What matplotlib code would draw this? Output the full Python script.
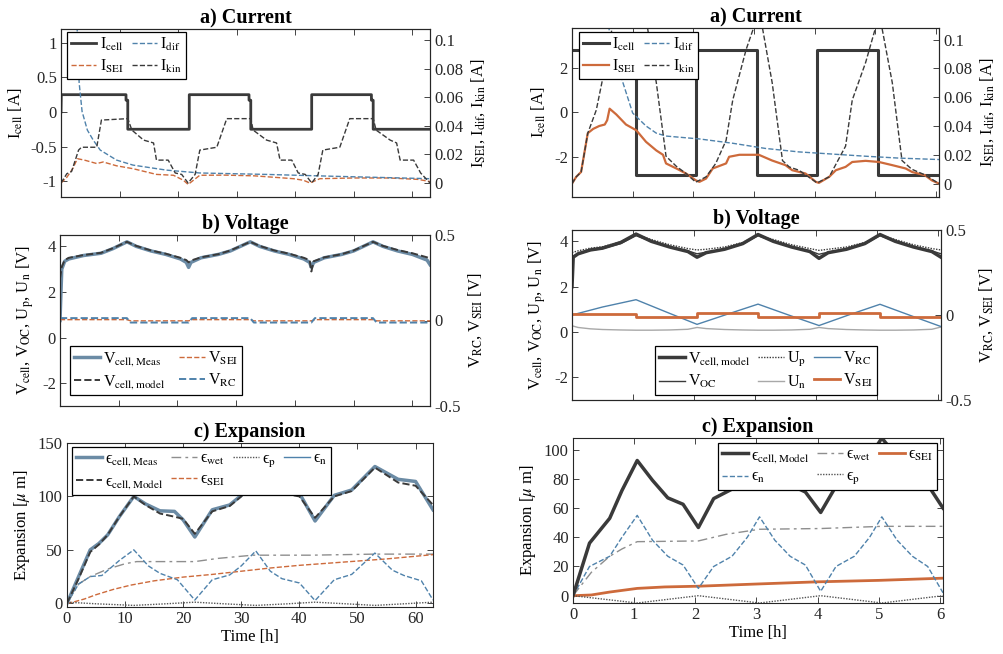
import matplotlib
matplotlib.use('Agg')
import matplotlib.pyplot as plt
from matplotlib.lines import Line2D
from matplotlib.ticker import FuncFormatter

plt.rcParams['font.family'] = ['Liberation Serif', 'DejaVu Serif']
plt.rcParams['mathtext.fontset'] = 'stix'
plt.rcParams['axes.unicode_minus'] = False

DARK = '#3a3a3a'
BLUE = '#4f82ab'
ORANGE = '#cd6a3b'
MEAS = '#6b8ba5'
GRAY = '#8e8e8e'
LGRAY = '#a8a8a8'
AXC = '#262626'

# ================= Left column (long test, 63 h) =================
# a) current
tL_Icell = [0, 0.05, 11.1, 11.1, 11.4, 11.4, 21.9, 21.9, 32.1, 32.1, 32.4, 32.4,
            42.8, 42.8, 53.0, 53.0, 53.3, 53.3, 63.0]
L_Icell = [0, 0.25, 0.25, 0.17, 0.17, -0.25, -0.25, 0.25, 0.25, 0.17, 0.17, -0.25,
           -0.25, 0.25, 0.25, 0.17, 0.17, -0.25, -0.25]

tL_Ikin = [0, 1.0, 1.8, 3.0, 3.5, 6.1, 6.9, 11.4, 12.1, 14.1, 15.8, 16.3, 18.3, 19.5,
           20.6, 21.7, 22.9, 23.7, 26.6, 28.3, 32.4, 32.8, 35.1, 36.8, 37.4, 39.4, 40.5,
           41.7, 42.8, 43.9, 44.7, 47.6, 49.3, 53.3, 53.8, 56.2, 57.3, 57.9, 60.2, 61.4, 63.0]
L_Ikin = [0, 0.0065, 0.008, 0.023, 0.025, 0.025, 0.044, 0.045, 0.037, 0.030, 0.028, 0.016,
          0.016, 0.007, 0.006, 0.0, 0.006, 0.023, 0.025, 0.045, 0.045, 0.037, 0.030, 0.028,
          0.016, 0.016, 0.007, 0.006, 0.0, 0.006, 0.023, 0.025, 0.045, 0.045, 0.037, 0.030,
          0.028, 0.016, 0.016, 0.007, 0.0]

tL_Isei = [0, 1.0, 2.0, 2.8, 4.0, 6.1, 7.2, 9.5, 12.3, 16.3, 19.2, 20.9, 21.7, 23.7,
           28.0, 33.0, 39.7, 41.4, 42.5, 44.2, 50.0, 56.0, 61.0, 63.0]
L_Isei = [0.0, 0.004, 0.010, 0.017, 0.016, 0.0136, 0.0147, 0.012, 0.010, 0.006, 0.0054,
          0.0019, -0.001, 0.0054, 0.0055, 0.005, 0.003, 0.0019, 0.0, 0.003, 0.0035,
          0.0035, 0.0025, 0.001]

tL_Idif = [2.6, 3.1, 3.6, 4.5, 5.5, 6.7, 9.5, 12.3, 18.0, 23.7, 35.0, 46.5, 63.0]
L_Idif = [0.125, 0.07, 0.05, 0.037, 0.030, 0.023, 0.016, 0.0125, 0.009, 0.007, 0.006,
          0.0047, 0.003]

# b) voltage
tL_V = [0, 0.3, 0.8, 1.5, 4, 7, 9, 11.4, 13, 15.5, 18, 20.5, 21.5, 21.9, 22.3, 24, 27,
        29, 32.4, 34, 36.5, 39, 41.5, 42.5, 42.8, 43.2, 45, 48, 50, 53.3, 55, 57.5, 60,
        62.5, 63]
L_Vmeas = [0.75, 3.0, 3.35, 3.45, 3.6, 3.7, 3.9, 4.2, 4.0, 3.8, 3.65, 3.45, 3.3, 3.08,
           3.3, 3.5, 3.65, 3.8, 4.2, 4.0, 3.8, 3.65, 3.45, 3.3, 3.08, 3.3, 3.5, 3.65, 3.8,
           4.2, 4.0, 3.8, 3.65, 3.4, 3.2]
L_Vmodel = [2.6, 3.1, 3.4, 3.5, 3.62, 3.72, 3.92, 4.2, 4.02, 3.82, 3.68, 3.5, 3.4, 3.3,
            3.38, 3.52, 3.66, 3.82, 4.2, 4.02, 3.82, 3.68, 3.5, 3.4, 2.9, 3.35, 3.52,
            3.66, 3.82, 4.2, 4.02, 3.84, 3.7, 3.52, 3.45]

tL_Vstep = [0, 11.4, 12.0, 21.9, 22.5, 32.4, 33.0, 42.8, 43.4, 53.3, 53.9, 63]
L_Vsei = [0.005, 0.005, -0.002, -0.002, 0.005, 0.005, -0.002, -0.002, 0.005, 0.005,
          -0.002, -0.002]
L_Vrc = [0.014, 0.014, -0.012, -0.012, 0.014, 0.014, -0.012, -0.012, 0.014, 0.014,
         -0.012, -0.012]

# c) expansion
tL_E = [0, 2, 4, 5.5, 7, 9, 11.5, 13.5, 16, 18.5, 20, 22, 25, 28, 30, 32.5, 35, 37, 40,
        42.7, 46, 49, 53, 57, 60, 63]
L_Emeas = [0, 25, 50, 56, 64, 81, 100, 93, 86.5, 86, 78, 62, 87.5, 92, 101, 119, 111,
           105, 103, 77, 101, 106, 128, 116, 114, 87.5]
L_Emodel = [0, 23, 48, 55, 64, 81, 100, 92, 84, 81, 79, 65, 86, 91, 100, 118, 110, 103,
            100, 80, 100, 105, 127, 113, 110, 92]
tL_Ewet = [0, 2, 4, 7, 10, 12, 22, 26, 32, 42, 53, 63]
L_Ewet = [0, 18, 25, 32, 37, 39, 39, 42, 45, 45, 46, 46]
tL_Esei = [0, 1, 3, 5, 8, 11, 15, 20, 25, 30, 35, 40, 45, 50, 55, 60, 63]
L_Esei = [0, 1, 4, 8, 13, 17, 21, 24.5, 27, 30, 33, 35.5, 37.5, 39.5, 41.5, 44, 45.5]
tL_En = [0, 2, 4, 6, 9, 11.5, 14, 16, 19, 22, 25, 28, 30, 32.5, 35, 37, 40, 42.7, 46,
         49, 53, 56, 58, 61, 63]
L_En = [0, 18, 25, 26, 40, 50, 35, 28, 22, 3, 22, 26.5, 35, 49, 30, 23, 19, 2.5, 22, 27,
        47, 31, 26, 21, 3]
tL_Ep = [0, 5, 11.5, 17, 22, 27, 32.5, 38, 42.7, 48, 53, 58, 63]
L_Ep = [1, -0.5, -2, -0.5, 1, -0.5, -2, -0.5, 1, -0.5, -2, -0.5, 1]

# ================= Right column (short test, 6 h) =================
tR_Icell = [0, 1.05, 1.05, 2.05, 2.05, 3.05, 3.05, 4.04, 4.04, 5.04, 5.04, 6.05]
R_Icell = [2.8, 2.8, -2.8, -2.8, 2.8, 2.8, -2.8, -2.8, 2.8, 2.8, -2.8, -2.8]

tR_Isei = [0, 0.07, 0.15, 0.26, 0.35, 0.45, 0.54, 0.58, 0.62, 0.73, 0.89, 1.06, 1.22,
           1.39, 1.50, 1.55, 1.72, 1.88, 2.04, 2.10, 2.21, 2.32, 2.54, 2.59, 2.76, 2.98,
           3.08, 3.30, 3.52, 3.63, 3.85, 4.02, 4.07, 4.24, 4.35, 4.51, 4.62, 4.84, 5.06,
           5.28, 5.50, 5.61, 5.82, 5.93, 6.05]
R_Isei = [0.0, 0.0047, 0.0081, 0.035, 0.038, 0.040, 0.041, 0.044, 0.052, 0.048, 0.041,
          0.037, 0.029, 0.023, 0.020, 0.014, 0.0105, 0.007, 0.0023, 0.0012, 0.0035,
          0.0105, 0.014, 0.0186, 0.020, 0.020, 0.020, 0.016, 0.0128, 0.0093, 0.007,
          0.0012, 0.0005, 0.0047, 0.0093, 0.0116, 0.015, 0.0158, 0.015, 0.0128, 0.0105,
          0.008, 0.0058, 0.0023, 0.0]

tR_Ikin = [0, 0.07, 0.15, 0.26, 0.40, 0.56, 0.67, 0.85, 1.05, 1.2, 1.39, 1.55, 1.72,
           1.88, 2.04, 2.21, 2.37, 2.54, 2.65, 2.87, 3.05, 3.14, 3.30, 3.47, 3.58, 3.74,
           4.04, 4.24, 4.51, 4.62, 4.84, 5.05, 5.11, 5.28, 5.44, 5.60, 5.82, 6.05]
R_Ikin = [0, 0.0047, 0.008, 0.035, 0.051, 0.084, 0.11, 0.14, 0.16, 0.12, 0.07, 0.019,
          0.012, 0.007, 0.001, 0.0047, 0.014, 0.030, 0.058, 0.093, 0.115, 0.108, 0.07,
          0.016, 0.0116, 0.0093, 0.0005, 0.0047, 0.026, 0.058, 0.084, 0.115, 0.108, 0.07,
          0.016, 0.010, 0.006, 0.0]

tR_Idif = [0.56, 0.62, 0.84, 1.0, 1.22, 1.39, 1.55, 2.1, 2.65, 3.19, 3.74, 4.29, 4.84,
           5.39, 6.05]
R_Idif = [0.12, 0.105, 0.07, 0.049, 0.040, 0.035, 0.033, 0.031, 0.028, 0.0244, 0.022,
          0.0205, 0.019, 0.0177, 0.0167]

tR_V = [0, 0.02, 0.1, 0.3, 0.5, 0.8, 1.05, 1.3, 1.6, 1.9, 2.05, 2.2, 2.5, 2.8, 3.05,
        3.3, 3.6, 3.9, 4.05, 4.2, 4.5, 4.8, 5.05, 5.3, 5.6, 5.9, 6.05]
R_Vcell = [2.0, 3.3, 3.45, 3.62, 3.7, 3.95, 4.32, 4.0, 3.75, 3.55, 3.3, 3.5, 3.65, 3.9,
           4.3, 4.0, 3.75, 3.55, 3.25, 3.5, 3.65, 3.9, 4.3, 4.0, 3.75, 3.55, 3.3]
R_Voc = [3.3, 3.35, 3.45, 3.6, 3.68, 3.9, 4.25, 4.0, 3.75, 3.58, 3.45, 3.52, 3.65, 3.88,
         4.25, 4.0, 3.75, 3.58, 3.43, 3.52, 3.65, 3.88, 4.25, 4.0, 3.75, 3.58, 3.45]
R_Up = [3.5, 3.52, 3.58, 3.7, 3.76, 3.98, 4.3, 4.08, 3.85, 3.68, 3.62, 3.65, 3.75, 3.95,
        4.28, 4.08, 3.85, 3.68, 3.6, 3.65, 3.75, 3.95, 4.28, 4.08, 3.85, 3.68, 3.62]
R_Un = [0.28, 0.26, 0.2, 0.14, 0.11, 0.09, 0.08, 0.08, 0.09, 0.12, 0.2, 0.15, 0.11, 0.09,
        0.08, 0.08, 0.09, 0.12, 0.2, 0.15, 0.11, 0.09, 0.08, 0.08, 0.09, 0.12, 0.22]
tR_Vrc = [0, 0.5, 1.05, 1.55, 2.05, 2.55, 3.05, 3.55, 4.05, 4.55, 5.05, 5.55, 6.05]
R_Vrc = [0.0, 0.047, 0.09, 0.017, -0.055, 0.005, 0.064, 0.0, -0.062, 0.002, 0.063,
         -0.003, -0.068]
tR_Vsei = [0, 1.05, 1.05, 2.05, 2.05, 3.05, 3.05, 4.05, 4.05, 5.05, 5.05, 6.05]
R_Vsei = [0.004, 0.004, -0.01, -0.01, 0.01, 0.01, -0.01, -0.01, 0.014, 0.014, -0.014,
          -0.014]

tR_E = [0, 0.27, 0.6, 0.8, 1.05, 1.3, 1.55, 1.8, 2.05, 2.3, 2.6, 2.85, 3.05, 3.3, 3.55,
        3.8, 4.05, 4.3, 4.6, 4.85, 5.05, 5.3, 5.55, 5.8, 6.05]
R_Emodel = [0, 36, 53, 72, 92.6, 79, 67, 62.6, 46.7, 66.5, 73, 85, 100, 88, 76, 71, 57,
            75, 82, 95, 108, 95, 83, 76, 60]
R_En = [0, 20, 27, 40, 55, 38, 27, 21, 5, 20, 27, 40, 54, 38, 27, 21, 3, 20, 27, 40, 54,
        38, 27, 20, 2]
tR_Ewet = [0, 0.3, 0.6, 0.8, 1.05, 2.05, 2.5, 3.05, 4.05, 5.05, 6.05]
R_Ewet = [0, 16, 27, 32, 37, 37.5, 42, 45.5, 46, 47.5, 47.5]
tR_Esei = [0, 0.3, 0.6, 1.05, 1.5, 2.05, 3.0, 4.0, 5.0, 6.05]
R_Esei = [0, 0.5, 2.5, 5, 6, 6.5, 8, 9.5, 10.5, 12]
tR_Ep = [0, 1.05, 2.05, 3.05, 4.05, 5.05, 6.05]
R_Ep = [0, -5, 0, -5, 0, -5, 0]

# ================= figure =================
W, H = 1004, 654
fig = plt.figure(figsize=(W / 100, H / 100), dpi=100)

FS = 12          # tick labels
LFS = 11.5       # legend
YFS = 12         # axis labels
TFS = 14.5       # titles
gfmt = FuncFormatter(lambda v, p: ('%g' % v))
WET_LS = (0, (7, 3, 2, 3))
DOT_LS = (0, (1, 1))
EPS = '\u03f5'


def make_ax(x0, y0, x1, y1):
    return fig.add_axes([x0 / W, 1 - y1 / H, (x1 - x0) / W, (y1 - y0) / H])


def style(ax, xlim, xticks, xlabels, twin=None):
    ax.set_xlim(*xlim)
    ax.set_xticks(xticks)
    ax.tick_params(direction='in', length=4, width=0.6, top=True, right=twin is None,
                   labelsize=FS, colors=AXC, pad=3)
    if not xlabels:
        ax.tick_params(labelbottom=False)
    ax.yaxis.set_major_formatter(gfmt)
    for s in ax.spines.values():
        s.set_linewidth(0.8)
        s.set_color(AXC)
    if twin is not None:
        twin.tick_params(direction='in', length=4, width=0.6, labelsize=FS, colors=AXC,
                         pad=3)
        twin.yaxis.set_major_formatter(gfmt)
        for s in twin.spines.values():
            s.set_linewidth(0.8)
            s.set_color(AXC)


def legend(ax, handles, labels, **kw):
    opts = dict(fancybox=False, edgecolor='k', framealpha=1, fontsize=LFS, borderpad=0.25,
                labelspacing=0.3, handlelength=1.6, handletextpad=0.2,
                columnspacing=0.5, borderaxespad=0)
    opts.update(kw)
    lg = ax.legend(handles, labels, **opts)
    lg.get_frame().set_linewidth(0.9)
    return lg


xL = (0, 63)
xR = (0, 6.05)
tkL = [0, 10, 20, 30, 40, 50, 60]
tkR = [0, 1, 2, 3, 4, 5, 6]

# ---------- left a ----------
ax = make_ax(61, 29, 430, 197)
ax2 = ax.twinx()
hc, = ax.plot(tL_Icell, L_Icell, color=DARK, lw=2.0)
hs, = ax2.plot(tL_Isei, L_Isei, color=ORANGE, lw=1.0, ls='--')
hd, = ax2.plot(tL_Idif, L_Idif, color=BLUE, lw=1.0, ls='--')
hk, = ax2.plot(tL_Ikin, L_Ikin, color=DARK, lw=1.0, ls='--')
ax.set_ylim(-1.23, 1.2)
ax.set_yticks([-1, -0.5, 0, 0.5, 1])
ax2.set_ylim(-0.0098, 0.1077)
ax2.set_yticks([0, 0.02, 0.04, 0.06, 0.08, 0.1])
style(ax, xL, tkL, False, ax2)
ax.set_title('a) Current', fontweight='bold', fontsize=TFS, pad=4)
ax.set_ylabel('I$_{\\rm cell}$ [A]', fontsize=YFS)
ax2.set_ylabel('I$_{\\rm SEI}$, I$_{\\rm dif}$, I$_{\\rm kin}$ [A]', fontsize=YFS)
legend(ax2, [hc, hs, hd, hk],
       ['I$_{\\rm cell}$', 'I$_{\\rm SEI}$', 'I$_{\\rm dif}$', 'I$_{\\rm kin}$'],
       ncol=2, loc='upper left', bbox_to_anchor=(0.016, 0.982))

# ---------- left b ----------
ax = make_ax(60, 235, 430, 406)
ax2 = ax.twinx()
hm, = ax.plot(tL_V, L_Vmeas, color=MEAS, lw=2.5)
hmo, = ax.plot(tL_V, L_Vmodel, color=DARK, lw=1.4, ls='--')
hvs, = ax2.plot(tL_Vstep, L_Vsei, color=ORANGE, lw=1.0, ls='--')
hvr, = ax2.plot(tL_Vstep, L_Vrc, color=BLUE, lw=1.4, ls='--')
ax.set_ylim(-3, 4.5)
ax.set_yticks([-2, 0, 2, 4])
ax2.set_ylim(-0.5, 0.5)
ax2.set_yticks([-0.5, 0, 0.5])
style(ax, xL, tkL, False, ax2)
ax.set_title('b) Voltage', fontweight='bold', fontsize=TFS, pad=4)
ax.set_ylabel('V$_{\\rm cell}$, V$_{\\rm OC}$, U$_{\\rm p}$, U$_{\\rm n}$ [V]', fontsize=YFS)
ax2.set_ylabel('V$_{\\rm RC}$, V$_{\\rm SEI}$ [V]', fontsize=YFS)
legend(ax2, [hm, hmo, hvs, hvr],
       ['V$_{\\rm cell,Meas}$', 'V$_{\\rm cell,model}$', 'V$_{\\rm SEI}$', 'V$_{\\rm RC}$'],
       ncol=2, loc='lower left', bbox_to_anchor=(0.027, 0.064), columnspacing=0.9)

# ---------- left c ----------
ax = make_ax(67, 443, 433, 607)
h1, = ax.plot(tL_Ewet, L_Ewet, color=GRAY, lw=1.0, ls=WET_LS)
h2, = ax.plot(tL_Esei, L_Esei, color=ORANGE, lw=1.0, ls='--')
h3, = ax.plot(tL_En, L_En, color=BLUE, lw=1.0, ls='--')
h4, = ax.plot(tL_Ep, L_Ep, color='#555555', lw=1.0, ls=DOT_LS)
h5, = ax.plot(tL_E, L_Emeas, color=MEAS, lw=2.5)
h6, = ax.plot(tL_E, L_Emodel, color=DARK, lw=1.4, ls='--')
hn_leg = Line2D([], [], color=BLUE, lw=1.0)
ax.set_ylim(-3.5, 150)
ax.set_yticks([0, 50, 100, 150])
style(ax, xL, tkL, True)
ax.set_title('c) Expansion', fontweight='bold', fontsize=TFS, pad=4)
ax.set_ylabel('Expansion [$\\mu$ m]', fontsize=YFS)
ax.set_xlabel('Time [h]', fontsize=YFS, labelpad=1)
legend(ax, [h5, h6, h1, h2, h4, hn_leg],
       [EPS + '$_{\\rm cell,Meas}$', EPS + '$_{\\rm cell,Model}$',
        EPS + '$_{\\rm wet}$', EPS + '$_{\\rm SEI}$', EPS + '$_{\\rm p}$',
        EPS + '$_{\\rm n}$'],
       ncol=4, loc='upper left', bbox_to_anchor=(0.014, 0.976))

# ---------- right a ----------
ax = make_ax(572, 28, 939, 197)
ax2 = ax.twinx()
hc, = ax.plot(tR_Icell, R_Icell, color=DARK, lw=2.2)
hs, = ax2.plot(tR_Isei, R_Isei, color=ORANGE, lw=1.6)
hd, = ax2.plot(tR_Idif, R_Idif, color=BLUE, lw=1.0, ls='--')
hk, = ax2.plot(tR_Ikin, R_Ikin, color=DARK, lw=1.0, ls='--')
ax.set_ylim(-3.8, 3.77)
ax.set_yticks([-2, 0, 2])
ax2.set_ylim(-0.0093, 0.108)
ax2.set_yticks([0, 0.02, 0.04, 0.06, 0.08, 0.1])
style(ax, xR, tkR, False, ax2)
ax.set_title('a) Current', fontweight='bold', fontsize=TFS, pad=4)
ax.set_ylabel('I$_{\\rm cell}$ [A]', fontsize=YFS)
ax2.set_ylabel('I$_{\\rm SEI}$, I$_{\\rm dif}$, I$_{\\rm kin}$ [A]', fontsize=YFS)
legend(ax2, [hc, hs, hd, hk],
       ['I$_{\\rm cell}$', 'I$_{\\rm SEI}$', 'I$_{\\rm dif}$', 'I$_{\\rm kin}$'],
       ncol=2, loc='upper left', bbox_to_anchor=(0.019, 0.976))

# ---------- right b ----------
ax = make_ax(572, 230, 941, 400)
ax2 = ax.twinx()
hun, = ax.plot(tR_V, R_Un, color=LGRAY, lw=1.0)
hoc, = ax.plot(tR_V, R_Voc, color=DARK, lw=1.0)
hup, = ax.plot(tR_V, R_Up, color=DARK, lw=1.0, ls=DOT_LS)
hvc, = ax.plot(tR_V, R_Vcell, color=DARK, lw=2.5)
hvr, = ax2.plot(tR_Vrc, R_Vrc, color=BLUE, lw=1.0)
hvs, = ax2.plot(tR_Vsei, R_Vsei, color=ORANGE, lw=2.0)
ax.set_ylim(-3, 4.5)
ax.set_yticks([-2, 0, 2, 4])
ax2.set_ylim(-0.5, 0.5)
ax2.set_yticks([-0.5, 0, 0.5])
style(ax, xR, tkR, False, ax2)
ax.set_title('b) Voltage', fontweight='bold', fontsize=TFS, pad=4)
ax.set_ylabel('V$_{\\rm cell}$, V$_{\\rm OC}$, U$_{\\rm p}$, U$_{\\rm n}$ [V]', fontsize=YFS)
ax2.set_ylabel('V$_{\\rm RC}$, V$_{\\rm SEI}$ [V]', fontsize=YFS)
legend(ax2, [hvc, hoc, hup, hun, hvr, hvs],
       ['V$_{\\rm cell,model}$', 'V$_{\\rm OC}$', 'U$_{\\rm p}$', 'U$_{\\rm n}$',
        'V$_{\\rm RC}$', 'V$_{\\rm SEI}$'],
       ncol=3, loc='lower left', bbox_to_anchor=(0.225, 0.03))

# ---------- right c ----------
ax = make_ax(573, 438, 943, 603)
h1, = ax.plot(tR_Ewet, R_Ewet, color=GRAY, lw=1.0, ls=WET_LS)
h2, = ax.plot(tR_Esei, R_Esei, color=ORANGE, lw=2.0)
h3, = ax.plot(tR_E, R_En, color=BLUE, lw=1.0, ls='--')
h4, = ax.plot(tR_Ep, R_Ep, color='#555555', lw=1.0, ls=DOT_LS)
h5, = ax.plot(tR_E, R_Emodel, color=DARK, lw=2.5)
ax.set_ylim(-5, 108)
ax.set_yticks([0, 20, 40, 60, 80, 100])
style(ax, xR, tkR, True)
ax.set_title('c) Expansion', fontweight='bold', fontsize=TFS, pad=4)
ax.set_ylabel('Expansion [$\\mu$ m]', fontsize=YFS)
ax.set_xlabel('Time [h]', fontsize=YFS, labelpad=1)
legend(ax, [h5, h3, h1, h4, h2],
       [EPS + '$_{\\rm cell,Model}$', EPS + '$_{\\rm n}$', EPS + '$_{\\rm wet}$',
        EPS + '$_{\\rm p}$', EPS + '$_{\\rm SEI}$'],
       ncol=3, loc='upper right', bbox_to_anchor=(0.984, 0.97))

fig.savefig('out.png', dpi=100)
